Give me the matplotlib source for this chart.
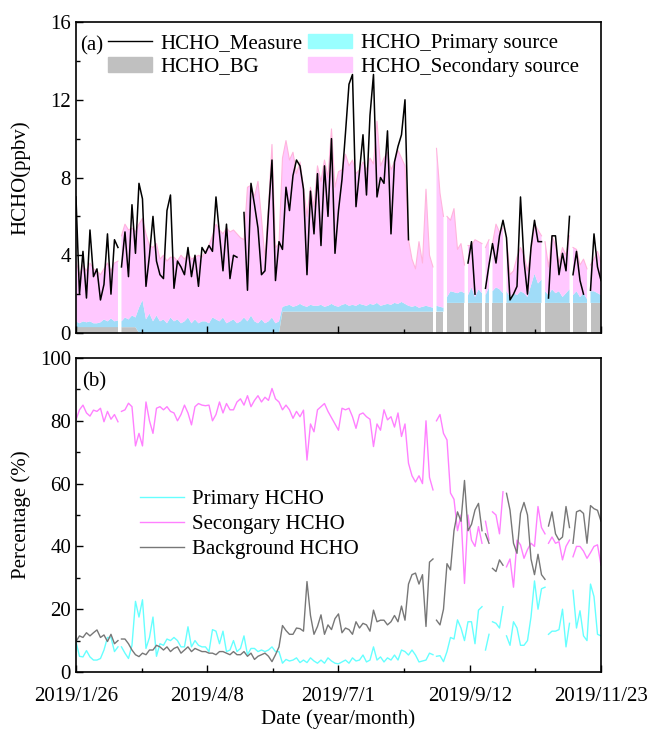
import numpy as np
import matplotlib
matplotlib.use('Agg')
import matplotlib.pyplot as plt
from matplotlib.patches import Patch
from matplotlib.lines import Line2D
from matplotlib.ticker import MultipleLocator

plt.rcParams['font.family'] = ['Liberation Serif', 'DejaVu Serif']
plt.rcParams['font.size'] = 15
plt.rcParams['xtick.direction'] = 'in'
plt.rcParams['ytick.direction'] = 'in'

nan = np.nan

# days since 2019/1/26, one sample every 2 days
days = np.arange(0, 301, 2)
date_ticks = [0, 75, 150, 225, 300]
date_labels = ['2019/1/26', '2019/4/8', '2019/7/1', '2019/9/12', '2019/11/23']

# days with missing data (breaks in the curves)
gap_days_measure = [25, 283]
gap_days_model = [25, 205, 211, 223, 233, 237, 245, 267, 283, 293]
gap_days_pct = [25, 205, 233, 237, 245, 269, 283]

# measured HCHO (ppbv)
hcho_measure = [
    7.0, 2.0, 4.2, 1.8, 5.3, 2.9, 3.3, 1.7, 2.5, 5.1,
    2.0, 4.8, 4.4, 3.4, 5.2, 2.9, 6.6, 4.1, 7.7, 6.9,
    2.4, 4.0, 6.0, 3.7, 3.0, 2.8, 6.3, 7.1, 2.3, 3.7,
    3.4, 3.0, 4.4, 2.9, 4.0, 2.4, 4.4, 4.1, 4.5, 4.2,
    7.0, 5.1, 3.2, 5.6, 2.8, 4.0, 3.9, nan, 6.2, 2.2,
    7.7, 6.6, 5.4, 3.0, 3.2, 6.2, 8.9, 2.7, 4.7, 4.3,
    7.5, 6.3, 8.1, 8.9, 8.6, 7.4, 3.0, 7.3, 5.1, 8.2,
    4.5, 8.6, 6.0, 10.0, 4.1, 6.3, 7.9, 10.3, 12.8, 13.3,
    6.5, 8.3, 10.2, 7.1, 11.2, 13.3, 7.0, 8.0, 7.7, 10.4,
    5.1, 8.8, 9.6, 10.2, 12.0, 4.8, nan, nan, nan, nan,
    nan, nan, nan, nan, nan, nan, nan, nan, nan, nan,
    nan, nan, 3.6, 4.7, 2.0, nan, nan, 2.3, 3.5, 4.6,
    3.6, 5.0, 5.8, 4.9, 1.7, 2.0, 2.4, 7.0, 3.7, 2.0,
    4.4, 5.8, 4.7, 4.7, nan, 1.8, 5.0, 5.0, 3.0, 4.1,
    3.2, 6.0, 3.0, 4.2, 2.7, 2.0, nan, 2.2, 5.1, 3.4,
    2.7]

# background level (ppbv)
hcho_bg = [0.3] * 18 + [0.0] * 41 + [1.1] * 47 + [1.55] * 45

# primary source contribution (ppbv)
hcho_primary = [
    0.3, 0.2, 0.3, 0.25, 0.3, 0.2, 0.2, 0.25, 0.4, 0.3,
    0.45, 0.3, 0.35, 0.3, 0.5, 0.4, 0.6, 0.5, 1.3, 1.7,
    0.7, 1.0, 0.6, 0.9, 0.6, 0.7, 0.5, 0.8, 0.6, 0.7,
    0.5, 0.6, 0.8, 0.5, 0.7, 0.5, 0.6, 0.6, 0.5, 0.8,
    0.7, 0.6, 0.8, 0.5, 0.6, 0.7, 0.5, 0.6, 0.8, 0.6,
    0.9, 0.6, 0.5, 0.7, 0.5, 0.6, 0.8, 0.5, 0.6, 0.25,
    0.3, 0.35, 0.25, 0.3, 0.4, 0.3, 0.25, 0.35, 0.3, 0.3,
    0.35, 0.25, 0.3, 0.4, 0.3, 0.25, 0.35, 0.4, 0.3, 0.35,
    0.3, 0.4, 0.35, 0.3, 0.4, 0.35, 0.45, 0.3, 0.35, 0.4,
    0.35, 0.45, 0.4, 0.5, 0.4, 0.3, 0.25, 0.3, 0.2, 0.25,
    0.3, 0.25, 0.2, 0.3, 0.25, 0.2, 0.3, 0.6, 0.55, 0.5,
    0.6, 0.5, 0.4, 0.8, 0.3, 0.7, 0.5, 0.4, 0.8, 0.6,
    0.8, 0.7, 0.5, 0.6, 0.3, 0.5, 0.4, 0.6, 0.5, 0.3,
    0.9, 1.5, 1.0, 1.2, 0.6, 0.4, 0.7, 0.5, 0.6, 0.3,
    0.5, 0.7, 0.4, 0.6, 0.3, 0.5, 0.2, 0.6, 0.6, 0.5,
    0.4]

# top of the stack = BG + primary + secondary (ppbv)
hcho_total = [
    3.7, 3.0, 3.5, 3.2, 3.6, 3.3, 3.2, 3.0, 3.3, 3.6,
    3.2, 3.6, 3.7, 5.0, 5.6, 5.3, 5.4, 5.2, 5.6, 5.9,
    5.1, 4.5, 4.4, 4.6, 3.8, 4.0, 3.7, 3.9, 3.9, 3.7,
    4.0, 3.8, 4.1, 3.8, 3.9, 4.0, 3.9, 4.2, 4.5, 5.0,
    5.6, 5.3, 5.1, 5.4, 5.2, 5.3, 5.1, 4.9, 4.8, 7.5,
    7.6, 7.0, 7.8, 5.9, 3.8, 6.5, 9.7, 4.4, 4.6, 9.0,
    9.9, 8.9, 9.3, 8.2, 8.8, 7.5, 6.0, 7.5, 6.5, 8.6,
    7.8, 8.9, 8.0, 10.5, 7.5, 8.3, 8.4, 9.2, 8.6, 8.9,
    8.2, 8.4, 8.8, 8.4, 9.0, 8.7, 10.9, 8.6, 9.0, 9.3,
    8.4, 8.8, 9.4, 9.0, 8.6, 4.8, 3.8, 3.3, 4.7, 3.6,
    7.4, 4.0, 3.4, 9.5, 7.2, 6.0, 6.0, 5.8, 6.4, 4.3,
    4.6, 3.5, 4.5, 4.5, 4.8, 4.7, 4.6, 4.4, 4.8, 4.6,
    5.6, 5.2, 5.4, 4.9, 3.0, 3.2, 3.9, 4.4, 4.0, 3.2,
    4.2, 5.6, 5.3, 5.0, 4.7, 3.4, 5.0, 4.5, 3.6, 4.4,
    4.0, 5.0, 4.4, 4.3, 3.5, 3.8, 3.3, 3.5, 3.8, 4.2,
    3.6]

# percentages (%)
pct_primary = [
    9.7, 5.0, 4.8, 6.8, 4.8, 3.8, 3.8, 4.3, 7.0, 11.0,
    11.0, 6.5, 8.0, 8.0, 6.0, 4.3, 8.5, 22.5, 17.5, 23.0,
    7.5, 11.0, 17.5, 5.0, 9.0, 8.5, 10.5, 10.0, 11.0, 10.0,
    8.0, 8.0, 14.4, 8.0, 10.0, 8.5, 8.0, 8.0, 6.5, 13.5,
    13.0, 9.0, 13.0, 6.5, 7.0, 10.0, 6.5, 7.5, 11.5, 5.5,
    7.5, 7.5, 6.5, 7.0, 6.5, 7.0, 8.0, 6.5, 6.5, 2.8,
    4.0, 3.5, 3.8, 4.5, 3.0, 3.8, 3.0, 4.5, 3.5, 2.8,
    3.8, 2.8, 4.5, 3.5, 2.8, 2.6, 3.2, 3.8, 2.8, 4.5,
    3.5, 3.8, 5.4, 3.2, 3.8, 8.0, 3.8, 4.8, 3.2, 4.5,
    3.8, 5.4, 3.8, 7.0, 6.5, 5.4, 7.0, 5.4, 3.2, 3.5,
    3.8, 6.0, 5.5, 5.0, 5.2, 3.3, 6.5, 11.0, 10.5, 16.6,
    14.0, 10.0, 16.0, 16.0, 9.0, 19.7, 20.8, 7.0, 12.0, 16.0,
    15.5, 14.0, 20.8, 11.5, 8.5, 16.0, 14.0, 8.5, 8.5, 10.0,
    17.5, 29.0, 20.0, 26.5, 27.0, 12.0, 13.0, 13.0, 13.5, 20.0,
    8.0, 15.5, 26.0, 14.0, 19.5, 11.5, 10.0, 28.0, 24.0, 12.0,
    11.5]

pct_secondary = [
    80.3, 83.5, 85.0, 82.5, 81.5, 83.4, 83.0, 84.0, 79.7, 83.0,
    80.5, 82.0, 79.7, 83.0, 83.5, 85.6, 84.5, 72.0, 76.0, 72.0,
    86.0, 80.0, 76.0, 84.0, 84.5, 83.5, 84.5, 83.0, 82.5, 80.0,
    82.0, 85.0, 82.5, 78.7, 84.5, 85.5, 85.0, 84.8, 85.0, 80.0,
    82.0, 86.0, 82.5, 85.5, 83.5, 83.5, 86.0, 87.0, 85.0, 88.0,
    84.5, 86.5, 88.0, 86.0, 87.5, 86.5, 90.3, 87.0, 86.0, 83.5,
    85.0, 83.5, 80.8, 83.0, 81.3, 83.4, 67.5, 79.0, 76.5, 83.5,
    84.5, 85.5, 83.0, 81.0, 79.0, 77.0, 84.0, 83.5, 84.0, 81.3,
    77.6, 82.0, 82.5, 81.3, 80.5, 71.8, 79.0, 77.0, 83.5, 80.3,
    81.3, 78.0, 82.5, 75.0, 79.0, 66.5, 62.5, 60.5, 62.5, 60.0,
    80.0, 62.0, 58.0, 80.0, 82.0, 76.0, 73.9, 57.0, 55.0, 45.0,
    50.0, 28.2, 50.0, 42.0, 40.0, 46.3, 41.0, 48.0, 42.0, 51.0,
    50.0, 44.0, 57.4, 33.5, 36.0, 27.0, 42.0, 40.5, 36.2, 39.0,
    41.0, 40.0, 52.7, 46.0, 44.0, 41.0, 43.0, 41.0, 41.5, 35.7,
    40.0, 42.0, 36.7, 40.0, 40.0, 38.5, 36.2, 38.0, 40.0, 40.5,
    34.0]

pct_background = [
    9.7, 11.5, 11.0, 12.5, 11.5, 12.5, 13.4, 11.0, 11.8, 9.7,
    12.0, 9.0, 10.0, 10.5, 10.5, 9.0, 7.0, 5.5, 4.9, 6.0,
    5.5, 7.0, 7.0, 8.5, 8.0, 7.0, 8.0, 6.5, 7.5, 8.0,
    6.0, 7.0, 8.0, 6.5, 7.5, 7.0, 6.5, 6.5, 6.0, 6.0,
    5.5, 6.5, 6.5, 6.0, 5.5, 6.5, 5.5, 5.5, 6.5, 5.0,
    6.0, 4.0, 5.0, 5.5, 6.0, 5.0, 3.3, 5.5, 8.0, 14.8,
    13.2, 12.0, 12.0, 14.0, 13.8, 13.0, 28.8, 18.0, 12.0, 14.5,
    18.2, 12.0, 15.0, 13.5, 17.0, 18.5, 12.5, 14.0, 13.5, 12.0,
    16.0, 14.0, 15.5, 15.0, 13.0, 19.7, 16.0, 16.5, 16.5, 15.0,
    16.0, 18.0, 16.0, 21.0, 16.5, 28.0, 31.0, 31.5, 28.0, 31.0,
    14.5, 35.0, 36.0, 16.5, 15.0, 20.0, 34.5, 32.5, 45.0, 51.0,
    48.0, 61.0, 45.0, 47.0, 51.6, 53.7, 45.0, 44.0, 41.0, 33.0,
    32.0, 35.7, 34.0, 56.9, 51.6, 41.0, 37.8, 50.5, 54.0, 50.0,
    36.0, 31.0, 37.5, 31.0, 29.5, 46.5, 51.0, 44.0, 42.0, 43.0,
    52.7, 46.0, 41.0, 51.0, 51.5, 50.5, 41.0, 53.0, 52.0, 51.5,
    48.0]


def with_gaps(x, y, gap_days):
    # put a NaN at each missing day so the curve breaks there
    xx = np.concatenate([x, gap_days])
    yy = np.concatenate([np.asarray(y, dtype=float), np.full(len(gap_days), nan)])
    order = np.argsort(xx, kind='stable')
    return xx[order], yy[order]


hcho_bg = np.array(hcho_bg)
hcho_primary = np.array(hcho_primary)
hcho_total = np.array(hcho_total)

xm, bg_top = with_gaps(days, hcho_bg, gap_days_model)
_, prim_top = with_gaps(days, hcho_bg + hcho_primary, gap_days_model)
_, total_top = with_gaps(days, hcho_total, gap_days_model)
xmeas, meas = with_gaps(days, hcho_measure, gap_days_measure)

fig = plt.figure(figsize=(6.51, 7.29), dpi=100)
ax1 = fig.add_axes([0.1167, 0.5432, 0.8065, 0.4266])
ax2 = fig.add_axes([0.1167, 0.0782, 0.8065, 0.4307])

# (a) concentrations
ax1.fill_between(xm, 0, bg_top, color='#c0c0c0', lw=0)
ax1.fill_between(xm, bg_top, prim_top, color='#a0dcf8', lw=0)
ax1.fill_between(xm, prim_top, total_top, color='#ffc8ff', lw=0)
ax1.plot(xm, total_top, color='#ffb4dc', lw=0.8)
ax1.plot(xmeas, meas, color='k', lw=1.1)

ax1.set_xlim(0, 300)
ax1.set_ylim(0, 16)
ax1.yaxis.set_major_locator(MultipleLocator(4))
ax1.yaxis.set_minor_locator(MultipleLocator(2))
ax1.set_xticks(date_ticks)
ax1.xaxis.set_minor_locator(MultipleLocator(37.5))
ax1.tick_params(labelbottom=False)
ax1.set_ylabel('HCHO(ppbv)')
ax1.yaxis.set_label_coords(-0.086, 0.5)
ax1.text(0.008, 0.924, '(a)', transform=ax1.transAxes, va='center', ha='left')

handles1 = [Line2D([], [], color='k', lw=1.0),
            Patch(color='#c0c0c0'),
            Patch(color='#99ffff'),
            Patch(color='#ffc8ff')]
labels1 = ['HCHO_Measure', 'HCHO_BG', 'HCHO_Primary source', 'HCHO_Secondary source']
ax1.legend(handles1, labels1, ncol=2, loc='upper left', bbox_to_anchor=(0.061, 0.962),
           frameon=False, borderpad=0, borderaxespad=0, handlelength=2.1,
           handletextpad=0.4, columnspacing=0.3, labelspacing=0.17)

# (b) percentages
for vals, col, lab in [(pct_primary, '#66ffff', 'Primary HCHO'),
                       (pct_secondary, '#ff80ff', 'Secongary HCHO'),
                       (pct_background, '#777777', 'Background HCHO')]:
    xp, yp = with_gaps(days, vals, gap_days_pct)
    ax2.plot(xp, yp, color=col, lw=1.0, label=lab)

ax2.set_xlim(0, 300)
ax2.set_ylim(0, 100)
ax2.yaxis.set_major_locator(MultipleLocator(20))
ax2.yaxis.set_minor_locator(MultipleLocator(10))
ax2.set_xticks(date_ticks)
ax2.set_xticklabels(date_labels)
ax2.xaxis.set_minor_locator(MultipleLocator(37.5))
ax2.tick_params(axis='x', which='major', pad=11)
ax2.set_ylabel('Percentage (%)')
ax2.yaxis.set_label_coords(-0.086, 0.5)
ax2.set_xlabel('Date (year/month)')
ax2.xaxis.set_label_coords(0.5, -0.118)
ax2.text(0.012, 0.924, '(b)', transform=ax2.transAxes, va='center', ha='left')
ax2.legend(loc='upper left', bbox_to_anchor=(0.122, 0.582), frameon=False,
           borderpad=0, borderaxespad=0, handlelength=2.1, handletextpad=0.4,
           labelspacing=0.27)

for ax in (ax1, ax2):
    ax.tick_params(which='major', length=5, width=1)
    ax.tick_params(which='minor', length=3, width=1)
    for s in ax.spines.values():
        s.set_linewidth(1.2)

fig.savefig('out.png', dpi=100)
